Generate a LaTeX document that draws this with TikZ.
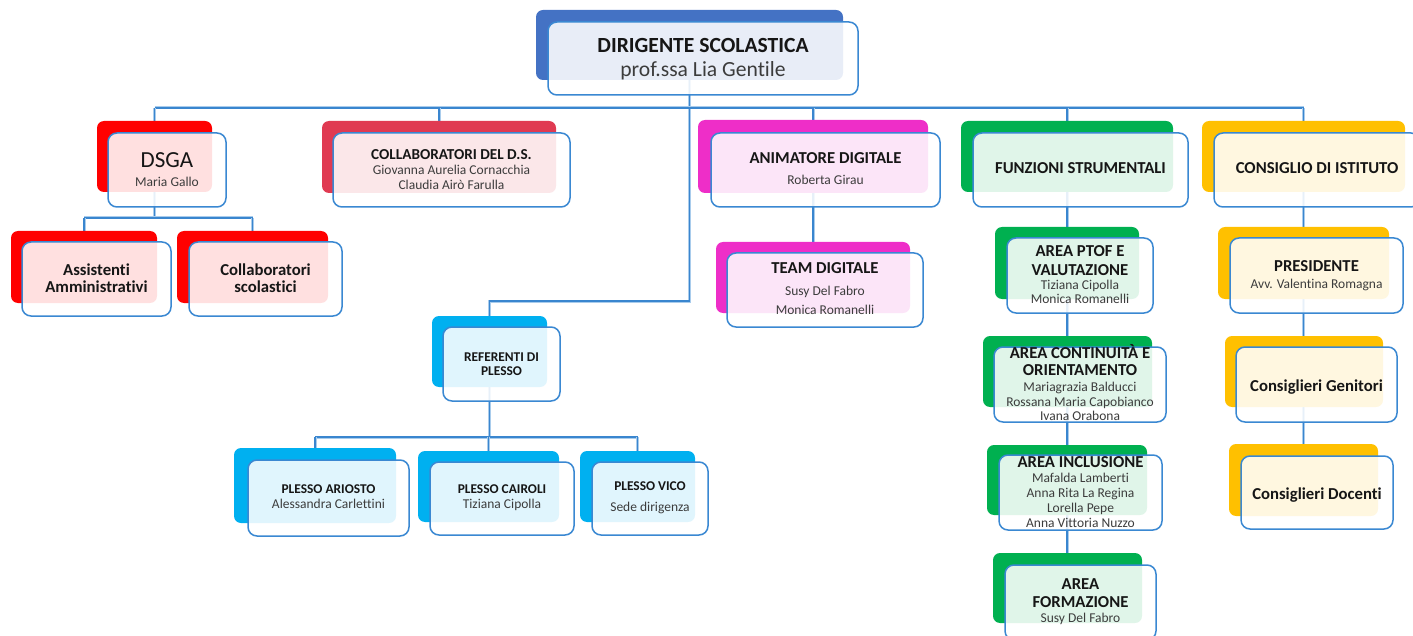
\documentclass[tikz,border=0pt]{standalone}
\usepackage{fontspec}
\setmainfont{Carlito}[Ligatures={NoCommon}]
\usetikzlibrary{fit,backgrounds}
\definecolor{cblue}{HTML}{4472C4}
\definecolor{cred}{HTML}{FF0000}
\definecolor{ccrim}{HTML}{E03A52}
\definecolor{cmag}{HTML}{EE2EC8}
\definecolor{cgreen}{HTML}{00B050}
\definecolor{cgold}{HTML}{FFC000}
\definecolor{ccyan}{HTML}{00B0F0}
\definecolor{bordr}{HTML}{3A88D2}
\definecolor{linkc}{HTML}{3A86CF}
\definecolor{linkl}{HTML}{A9CCEC}
\definecolor{titc}{HTML}{161616}
\definecolor{namc}{HTML}{3C3C3C}
\tikzset{
  backbox/.style={rounded corners=7pt, inner sep=0pt, outer sep=0pt, draw=none},
  frontbox/.style={rounded corners=9pt, inner sep=0pt, outer sep=0pt, draw=bordr, line width=1.5pt, fill=white, fill opacity=0.88},
  conn/.style={draw=linkc, line width=1.3pt, preaction={draw=linkl, line width=3pt}},
  tline/.style={anchor=base, inner sep=0pt, outer sep=0pt},
  bigt/.style={tline, text=titc, font=\fontsize{21.6}{24}\selectfont\bfseries},
  bign/.style={tline, text=namc, font=\fontsize{21.6}{24}\selectfont},
  dsgat/.style={tline, text=titc, font=\fontsize{23}{26}\selectfont},
  ttl/.style={tline, text=titc, font=\fontsize{16.7}{18}\selectfont\bfseries},
  mttl/.style={tline, text=titc, font=\fontsize{15.2}{17}\selectfont\bfseries},
  sttl/.style={tline, text=titc, font=\fontsize{13.4}{15}\selectfont\bfseries},
  nm/.style={tline, text=namc, font=\fontsize{13.5}{15}\selectfont},
}
\newcommand\orgbox[4]{%
  \node[backbox, fill=#2, fit={#3}] (#1-b) {};
  \node[frontbox, fit={#4}] (#1) {};
}
\newcommand\tl[5]{\node[#2] (#1) at (#3,#4) {#5};}
\begin{document}
\begin{tikzpicture}[x=1pt,y=-1pt]
\useasboundingbox (0,0) rectangle (1413,636);
% top
\orgbox{top}{cblue}{(536,10) (843,80)}{(548,22) (858,95)}
\tl{top-1}{bigt}{703}{53}{DIRIGENTE SCOLASTICA}
\tl{top-2}{bign}{703}{76.5}{prof.ssa Lia Gentile}
% DSGA branch
\orgbox{dsga}{cred}{(97,121) (212,192)}{(108,133) (226,207)}
\tl{dsga-1}{dsgat}{167}{167.3}{DSGA}
\tl{dsga-2}{nm}{167}{186.7}{Maria Gallo}
\orgbox{assi}{cred}{(11,231) (157,303)}{(22,242) (171,316)}
\tl{assi-1}{ttl}{96.5}{275.7}{Assistenti}
\tl{assi-2}{ttl}{96.5}{292.7}{Amministrativi}
\orgbox{colsc}{cred}{(177,231) (328,303)}{(189,242) (342,316)}
\tl{colsc-1}{ttl}{265.5}{275.7}{Collaboratori}
\tl{colsc-2}{ttl}{265.5}{292.7}{scolastici}
% collaboratori DS
\orgbox{colds}{ccrim}{(322,121) (556,193)}{(333,133) (570,207)}
\tl{colds-1}{mttl}{451.5}{160}{COLLABORATORI DEL D.S.}
\tl{colds-2}{nm}{451.5}{175}{Giovanna Aurelia Cornacchia}
\tl{colds-3}{nm}{451.5}{190}{Claudia Airò Farulla}
% animatore / team
\orgbox{anim}{cmag}{(698,120) (928,193)}{(711,133) (940,207)}
\tl{anim-1}{ttl}{825.5}{164}{ANIMATORE DIGITALE}
\tl{anim-2}{nm}{825.5}{185}{Roberta Girau}
\orgbox{team}{cmag}{(716,242) (910,313)}{(727,253) (923,327)}
\tl{team-1}{ttl}{825}{274}{TEAM DIGITALE}
\tl{team-2}{nm}{825}{295.3}{Susy Del Fabro}
\tl{team-3}{nm}{825}{314.7}{Monica Romanelli}
% funzioni strumentali
\orgbox{funz}{cgreen}{(961,121) (1173,192)}{(973,133) (1188,207)}
\tl{funz-1}{ttl}{1080.5}{173.3}{FUNZIONI STRUMENTALI}
\orgbox{ptof}{cgreen}{(995,227) (1139,299)}{(1007,238) (1153,313)}
\tl{ptof-1}{ttl}{1080}{256.7}{AREA PTOF E}
\tl{ptof-2}{ttl}{1080}{275.7}{VALUTAZIONE}
\tl{ptof-3}{nm}{1080}{289.3}{Tiziana Cipolla}
\tl{ptof-4}{nm}{1080}{304}{Monica Romanelli}
\orgbox{cont}{cgreen}{(983,336) (1152,407)}{(994,347) (1166,422)}
\tl{cont-1}{ttl}{1080}{358.3}{AREA CONTINUITÀ E}
\tl{cont-2}{ttl}{1080}{375.7}{ORIENTAMENTO}
\tl{cont-3}{nm}{1080}{391.7}{Mariagrazia Balducci}
\tl{cont-4}{nm}{1080}{406.7}{Rossana Maria Capobianco}
\tl{cont-5}{nm}{1080}{420.7}{Ivana Orabona}
\orgbox{incl}{cgreen}{(987,445) (1147,515)}{(999,455) (1162,530)}
\tl{incl-1}{ttl}{1080.5}{467.7}{AREA INCLUSIONE}
\tl{incl-2}{nm}{1080.5}{482.7}{Mafalda Lamberti}
\tl{incl-3}{nm}{1080.5}{497.7}{Anna Rita La Regina}
\tl{incl-4}{nm}{1080.5}{512.7}{Lorella Pepe}
\tl{incl-5}{nm}{1080.5}{527.7}{Anna Vittoria Nuzzo}
\orgbox{form}{cgreen}{(993,553) (1142,623)}{(1005,565) (1156,640)}
\tl{form-1}{ttl}{1080.5}{589}{AREA}
\tl{form-2}{ttl}{1080.5}{607.7}{FORMAZIONE}
\tl{form-3}{nm}{1080.5}{622.7}{Susy Del Fabro}
% consiglio
\orgbox{cons}{cgold}{(1202,121) (1405,192)}{(1214,133) (1420,207)}
\tl{cons-1}{ttl}{1317}{174}{CONSIGLIO DI ISTITUTO}
\orgbox{pres}{cgold}{(1218,227) (1389,299)}{(1230,238) (1403,313)}
\tl{pres-1}{ttl}{1316.5}{271.7}{PRESIDENTE}
\tl{pres-2}{nm}{1316.5}{288.3}{Avv. Valentina Romagna}
\orgbox{gen}{cgold}{(1225,336) (1383,407)}{(1236,347) (1397,422)}
\tl{gen-1}{ttl}{1316.5}{391}{Consiglieri Genitori}
\orgbox{doc}{cgold}{(1229,444) (1378,516)}{(1241,456) (1393,529)}
\tl{doc-1}{ttl}{1317}{499.3}{Consiglieri Docenti}
% referenti di plesso
\orgbox{ref}{ccyan}{(432,316) (547,387)}{(443,327) (560,401)}
\tl{ref-1}{sttl}{501.5}{361}{REFERENTI DI}
\tl{ref-2}{sttl}{501.5}{375}{PLESSO}
\orgbox{ario}{ccyan}{(234,448) (396,523)}{(248,460) (409,536)}
\tl{ario-1}{sttl}{328.5}{493.3}{PLESSO ARIOSTO}
\tl{ario-2}{nm}{328.5}{508.3}{Alessandra Carlettini}
\orgbox{cair}{ccyan}{(418,451) (559,522)}{(430,462) (574,535)}
\tl{cair-1}{sttl}{502}{493.3}{PLESSO CAIROLI}
\tl{cair-2}{nm}{502}{508.3}{Tiziana Cipolla}
\orgbox{vico}{ccyan}{(580,451) (695,522)}{(592,462) (708,535)}
\tl{vico-1}{sttl}{650}{490.7}{PLESSO VICO}
\tl{vico-2}{nm}{650}{511.7}{Sede dirigenza}
% connectors
\begin{pgfonlayer}{background}
\coordinate (bus) at (689,108);
\coordinate (refbus) at (689,301);
\coordinate (dbus) at (153,218);
\coordinate (pbus) at (488,437);
\draw[conn] (top-b.center) -- (top-b.center |- refbus) -| (ref-b.center);
\draw[conn] (dsga-b.center |- bus) -- (cons-b.center |- bus);
\foreach \n in {dsga,colds,anim,funz,cons}
  \draw[conn] (\n-b.center |- bus) -- (\n-b.center);
\draw[conn] (dsga-b.center) -- (dsga-b.center |- dbus);
\draw[conn] (assi-b.center |- dbus) -- (colsc-b.center |- dbus);
\foreach \n in {assi,colsc}
  \draw[conn] (\n-b.center |- dbus) -- (\n-b.center);
\draw[conn] (anim-b.center) -- (anim-b.center |- team-b.center);
\draw[conn] (funz-b.center) -- (funz-b.center |- form-b.center);
\draw[conn] (cons-b.center) -- (cons-b.center |- doc-b.center);
\draw[conn] (ref-b.center) -- (ref-b.center |- pbus);
\draw[conn] (ario-b.center |- pbus) -- (vico-b.center |- pbus);
\foreach \n in {ario,cair,vico}
  \draw[conn] (\n-b.center |- pbus) -- (\n-b.center);
\end{pgfonlayer}
\end{tikzpicture}
\end{document}
